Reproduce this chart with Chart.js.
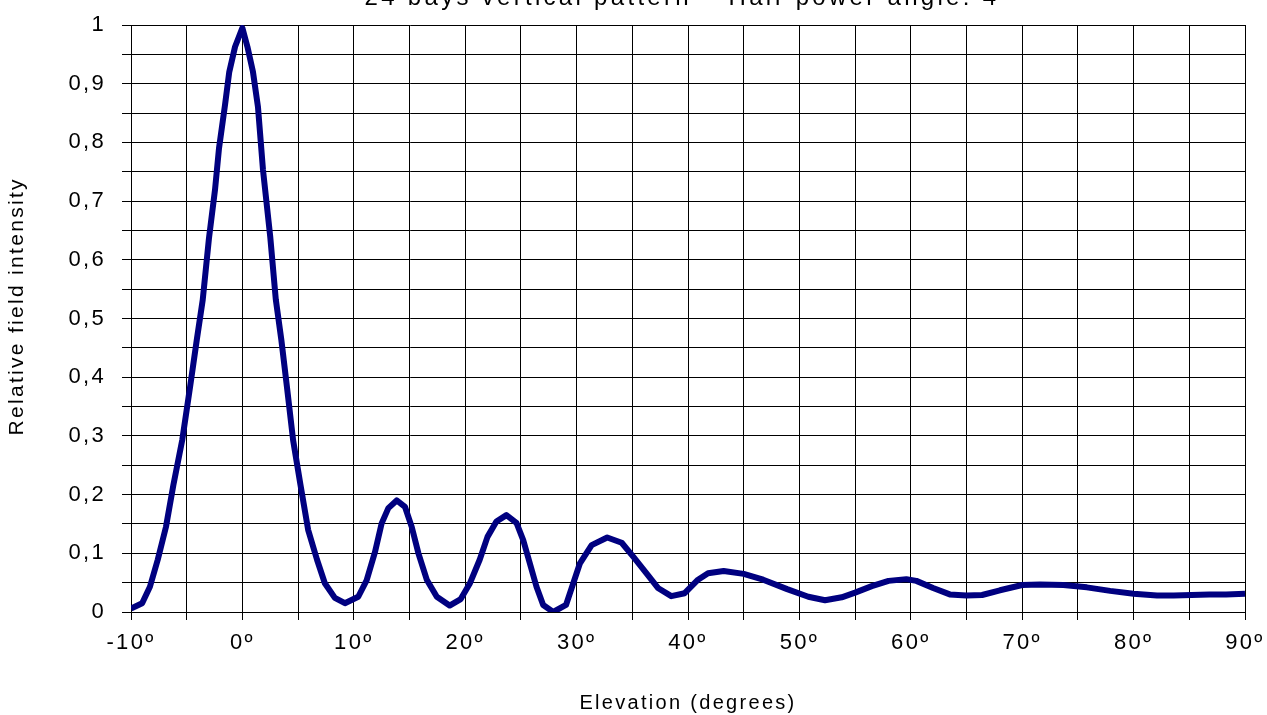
<!DOCTYPE html>
<html>
<head>
<meta charset="utf-8">
<script src="https://cdn.jsdelivr.net/npm/chart.js@4.4.1/dist/chart.umd.min.js"></script>
<style>
  html, body { margin: 0; padding: 0; background: #fff; }
  #wrap { position: relative; width: 1267px; height: 715px; }
</style>
</head>
<body>
<div id="wrap"><canvas id="c" width="1267" height="715"></canvas></div>
<script>
const chartTitle = '24 bays vertical pattern \u2013 Half-power angle: 4\u00ba';
const xAxisTitle = 'Elevation (degrees)';
const yAxisTitle = '   Relative field intensity';

const elevation = [
  -10, -9.0, -8.3, -7.6, -6.86, -6.2, -5.4, -4.7, -4.1, -3.56, -3.0, -2.46, -2.1, -1.56, -1.18, -0.66, 0,
  0.45, 0.95, 1.4, 1.85, 2.5, 3.0, 3.5, 4.0, 4.55, 5.2, 5.9, 6.7, 7.4, 8.3, 9.2,
  10.4, 11.15, 11.9, 12.5, 13.1, 13.85, 14.6, 15.2, 15.8, 16.55, 17.45, 18.6,
  19.6, 20.4, 21.3, 22.0, 22.8, 23.7, 24.6, 25.2, 26.4, 27.0, 27.9,
  29.05, 30.3, 31.35, 32.75, 34.05, 35.1, 36.4, 37.3, 38.5,
  39.7, 40.9, 41.8, 43.2, 45.0, 46.75, 48.9, 50.8, 52.3,
  53.8, 55.0, 56.5, 58.0, 59.6, 60.5, 62.0, 63.5, 65.0,
  66.4, 68.0, 70.0, 71.6, 73.7, 75.8, 77.9, 80.0, 82.1,
  83.6, 85.2, 86.8, 88.3, 90
];
const intensity = [
  0.006, 0.015, 0.043, 0.089, 0.145, 0.216, 0.293, 0.383, 0.463, 0.532, 0.637, 0.719, 0.79, 0.864, 0.92, 0.963, 0.995,
  0.963, 0.92, 0.86, 0.753, 0.639, 0.532, 0.463, 0.383, 0.293, 0.218, 0.140, 0.089, 0.049, 0.024, 0.015,
  0.026, 0.054, 0.102, 0.151, 0.177, 0.190, 0.179, 0.145, 0.100, 0.055, 0.026, 0.011,
  0.022, 0.048, 0.089, 0.128, 0.154, 0.165, 0.152, 0.123, 0.043, 0.012, 0.0,
  0.012, 0.083, 0.114, 0.127, 0.118, 0.094, 0.063, 0.041, 0.027,
  0.032, 0.055, 0.066, 0.070, 0.065, 0.055, 0.039, 0.026, 0.020,
  0.025, 0.033, 0.044, 0.053, 0.056, 0.053, 0.041, 0.030, 0.028,
  0.029, 0.037, 0.046, 0.047, 0.046, 0.042, 0.036, 0.031, 0.028,
  0.028, 0.029, 0.030, 0.030, 0.031
];
const xTickValues = [-10, 0, 10, 20, 30, 40, 50, 60, 70, 80, 90];
const yTickValues = [0, 0.1, 0.2, 0.3, 0.4, 0.5, 0.6, 0.7, 0.8, 0.9, 1];

const FONT = '"Liberation Sans", Arial, Helvetica, sans-serif';
const LS = '2.3px';

const spacingPlugin = {
  id: 'spacing',
  beforeUpdate(chart) { chart.ctx.letterSpacing = LS; },
  beforeLayout(chart) { chart.ctx.letterSpacing = LS; },
  beforeDraw(chart) { chart.ctx.letterSpacing = LS; }
};

const titlePlugin = {
  id: 'cutTitle',
  afterDraw(chart) {
    const ctx = chart.ctx;
    const a = chart.chartArea;
    ctx.save();
    ctx.letterSpacing = '3.3px';
    ctx.font = '24px ' + FONT;
    ctx.fillStyle = '#000';
    ctx.textAlign = 'center';
    ctx.textBaseline = 'alphabetic';
    ctx.fillText(chartTitle, (a.left + a.right) / 2, 5);
    ctx.restore();
  }
};

const points = elevation.map((x, i) => ({ x: x, y: intensity[i] }));

new Chart(document.getElementById('c'), {
  type: 'line',
  data: {
    datasets: [{
      data: points,
      borderColor: '#000080',
      borderWidth: 6,
      pointRadius: 0,
      tension: 0,
      fill: false,
      borderJoinStyle: 'round',
      borderCapStyle: 'butt'
    }]
  },
  options: {
    responsive: false,
    animation: false,
    events: [],
    layout: { padding: { top: 25, right: 22, left: 0, bottom: 0 } },
    plugins: { legend: { display: false }, tooltip: { enabled: false }, title: { display: false } },
    scales: {
      x: {
        type: 'linear',
        min: -10, max: 90,
        afterFit(s) { s.height = 103; s.paddingLeft = 0; s.paddingRight = 0; },
        afterBuildTicks(s) {
          const t = [];
          for (let v = -10; v <= 90; v += 5) t.push({ value: v });
          s.ticks = t;
        },
        ticks: {
          autoSkip: false,
          maxRotation: 0,
          padding: 10,
          color: '#000',
          font: { family: FONT, size: 22 },
          callback: (v) => xTickValues.includes(v) ? v + '\u00ba' : ''
        },
        grid: { color: '#000', lineWidth: 1, tickLength: 8, drawTicks: true },
        border: { color: '#000', width: 1 },
        title: {
          display: true, text: xAxisTitle, color: '#000',
          font: { family: FONT, size: 20 },
          padding: { top: 0, bottom: 0 }
        }
      },
      y: {
        type: 'linear',
        min: 0, max: 1,
        afterFit(s) { s.width = 131; s.paddingTop = 0; s.paddingBottom = 0; },
        afterBuildTicks(s) {
          const t = [];
          for (let i = 0; i <= 20; i++) t.push({ value: i / 20 });
          s.ticks = t;
        },
        ticks: {
          autoSkip: false,
          padding: 16,
          color: '#000',
          font: { family: FONT, size: 22 },
          callback: (v) => {
            const r = Math.round(v * 10) / 10;
            if (Math.abs(r - v) > 1e-6) return '';
            return String(r).replace('.', ',');
          }
        },
        grid: { color: '#000', lineWidth: 1, tickLength: 9, drawTicks: true },
        border: { color: '#000', width: 1 },
        title: {
          display: true, text: yAxisTitle, color: '#000',
          font: { family: FONT, size: 21 },
          padding: { top: 5, bottom: 0 }
        }
      }
    }
  },
  plugins: [spacingPlugin, titlePlugin]
});
</script>
</body>
</html>
